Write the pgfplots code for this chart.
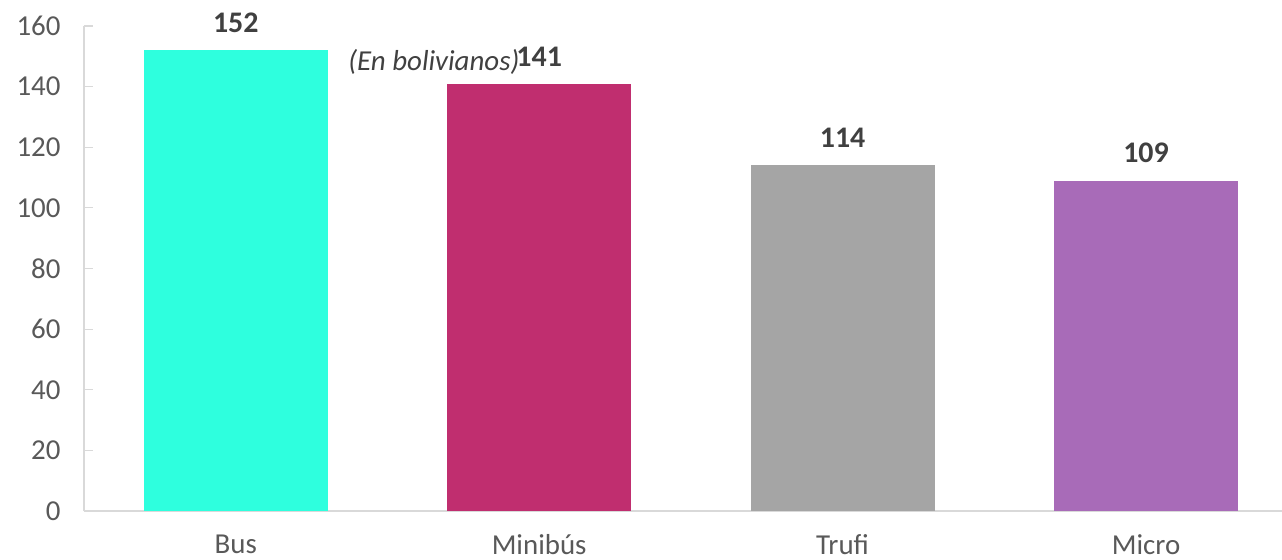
\documentclass[border=0pt]{standalone}
\usepackage{fontspec}
\setmainfont{Carlito}
\usepackage{pgfplots}
\pgfplotsset{compat=1.18}
\definecolor{cbus}{HTML}{2EFFDE}
\definecolor{cmini}{HTML}{C02E6F}
\definecolor{ctrufi}{HTML}{A5A5A5}
\definecolor{cmicro}{HTML}{A86BB8}
\definecolor{txt}{HTML}{595959}
\definecolor{lbl}{HTML}{404040}
\definecolor{axl}{HTML}{D9D9D9}
\begin{document}
\begin{tikzpicture}
\path[use as bounding box] (-84bp,-49bp) rectangle (1198bp,511bp);
\begin{axis}[
  at={(0,0)}, anchor=south west,
  scale only axis, width=1198bp, height=485bp,
  xmin=-0.5, xmax=3.448, ymin=0, ymax=160,
  ytick={0,20,...,160},
  xtick={0,1,2,3},
  xticklabels={Bus,Minibús,Trufi,Micro},
  axis x line*=bottom, axis y line*=left,
  axis line style={axl, line width=1.2bp, -},
  tick style={axl, line width=1.2bp},
  major tick length=9bp,
  xtick style={draw=none},
  ytick pos=left, tick align=inside,
  /pgf/number format/assume math mode=true,
  tick label style={font=\fontsize{29}{34}\selectfont, text=txt},
  yticklabel style={xshift=-20bp},
  xticklabel style={yshift=-11bp},
  ybar, bar width=184bp,
  nodes near coords,
  every node near coord/.append style={font=\fontsize{30}{36}\selectfont\bfseries, text=lbl, yshift=14bp},
]
\addplot[fill=cbus, draw=none, bar shift=0pt] coordinates {(0,152)};
\addplot[fill=cmini, draw=none, bar shift=0pt] coordinates {(1,141)};
\addplot[fill=ctrufi, draw=none, bar shift=0pt] coordinates {(2,114)};
\addplot[fill=cmicro, draw=none, bar shift=0pt] coordinates {(3,109)};
\node[font=\fontsize{29}{34}\selectfont\itshape, text=lbl] at (axis cs:0.653,148) {(En bolivianos)};
\end{axis}
\end{tikzpicture}
\end{document}
